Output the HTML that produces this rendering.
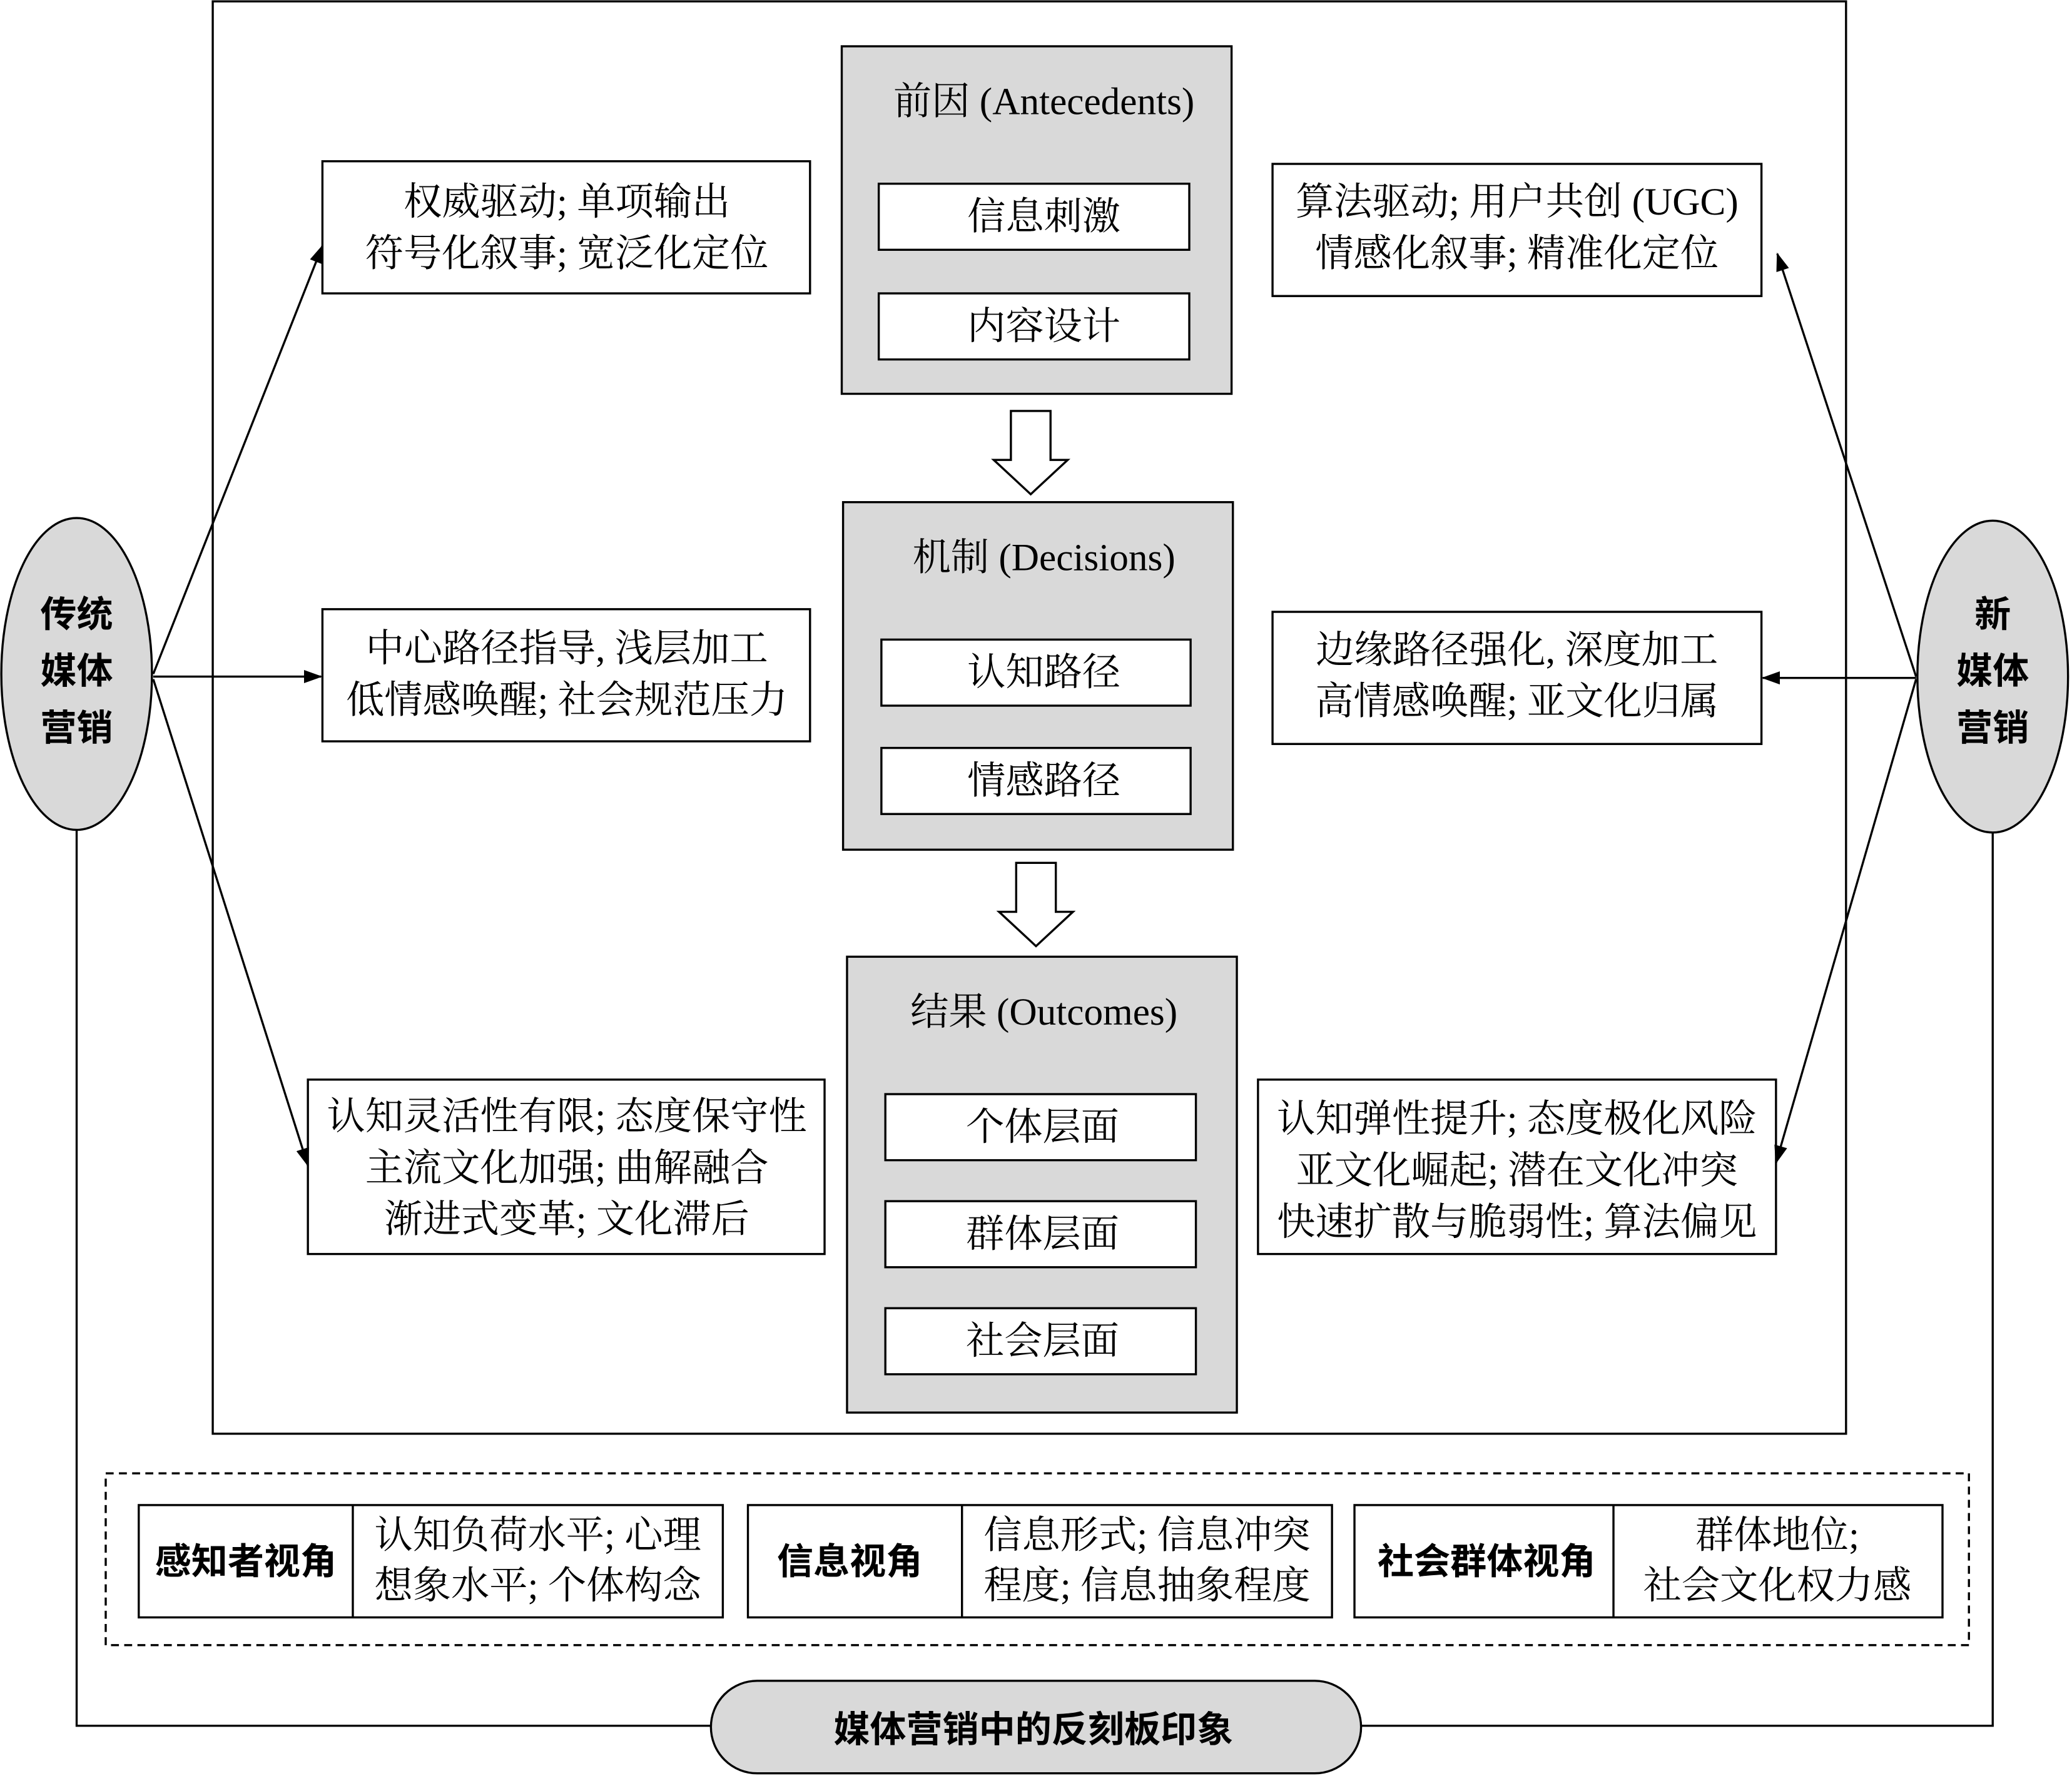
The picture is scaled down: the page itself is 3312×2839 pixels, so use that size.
<!DOCTYPE html>
<html><head><meta charset="utf-8"><style>
html,body{margin:0;padding:0;background:#fff}
svg{display:block}
text{font-family:"Liberation Serif","Noto Serif CJK SC",serif;font-size:29px;fill:#000;text-anchor:middle;dominant-baseline:central}
.b{font-family:"Liberation Sans","Noto Sans CJK SC",sans-serif;font-weight:bold;font-size:27.5px}
</style></head><body>
<svg width="3312" height="2839" viewBox="0 0 1568 1344" xmlns="http://www.w3.org/2000/svg">
<defs><marker id="a" markerWidth="14" markerHeight="10" refX="13" refY="5" orient="auto" markerUnits="userSpaceOnUse"><path d="M0,0 L14,5 L0,10 Z" fill="#000"/></marker></defs>
<g fill="none" stroke="#000" stroke-width="1.6">
<rect x="161" y="1" width="1236" height="1084"/>
<rect x="637" y="35" width="295" height="263" fill="#d9d9d9"/>
<rect x="665" y="139" width="235" height="50" fill="#fff"/>
<rect x="665" y="222" width="235" height="50" fill="#fff"/>
<rect x="638" y="380" width="295" height="263" fill="#d9d9d9"/>
<rect x="667" y="484" width="234" height="50" fill="#fff"/>
<rect x="667" y="566" width="234" height="50" fill="#fff"/>
<rect x="641" y="724" width="295" height="345" fill="#d9d9d9"/>
<rect x="670" y="828" width="235" height="50" fill="#fff"/>
<rect x="670" y="909" width="235" height="50" fill="#fff"/>
<rect x="670" y="990" width="235" height="50" fill="#fff"/>
<path d="M765,311 H795 V348 H808 L780,374 L752,348 H765 Z" fill="#fff"/>
<path d="M769,653 H799 V690 H812 L784,716 L756,690 H769 Z" fill="#fff"/>
<rect x="244" y="122" width="369" height="100" fill="#fff"/>
<rect x="244" y="461" width="369" height="100" fill="#fff"/>
<rect x="233" y="817" width="391" height="132" fill="#fff"/>
<rect x="963" y="124" width="370" height="100" fill="#fff"/>
<rect x="963" y="463" width="370" height="100" fill="#fff"/>
<rect x="952" y="817" width="392" height="132" fill="#fff"/>
<line x1="116" y1="510" x2="244" y2="186" marker-end="url(#a)"/>
<line x1="116" y1="512" x2="243" y2="512" marker-end="url(#a)"/>
<line x1="116" y1="514" x2="233" y2="882" marker-end="url(#a)"/>
<line x1="1450" y1="512" x2="1345" y2="192" marker-end="url(#a)"/>
<line x1="1450" y1="513" x2="1334" y2="513" marker-end="url(#a)"/>
<line x1="1450" y1="514" x2="1344" y2="880" marker-end="url(#a)"/>
<polyline points="58,628 58,1306 538,1306"/>
<polyline points="1508,630 1508,1306 1030,1306"/>
<ellipse cx="58" cy="510" rx="57" ry="118" fill="#d9d9d9"/>
<ellipse cx="1508" cy="512" rx="57" ry="118" fill="#d9d9d9"/>
<rect x="80" y="1115" width="1410" height="130" stroke-dasharray="6,4"/>
<rect x="105" y="1139" width="442" height="85"/><line x1="267" y1="1139" x2="267" y2="1224"/>
<rect x="566" y="1139" width="442" height="85"/><line x1="728" y1="1139" x2="728" y2="1224"/>
<rect x="1025" y="1139" width="445" height="85"/><line x1="1221" y1="1139" x2="1221" y2="1224"/>
<rect x="538" y="1272" width="492" height="70" rx="35" fill="#d9d9d9"/>
</g>
<text x="790" y="77">前因 (Antecedents)</text>
<text x="790" y="164">信息刺激</text><text x="790" y="247">内容设计</text>
<text x="790" y="422">机制 (Decisions)</text>
<text x="790" y="509">认知路径</text><text x="790" y="591">情感路径</text>
<text x="790" y="766">结果 (Outcomes)</text>
<text x="789" y="853">个体层面</text><text x="789" y="934">群体层面</text><text x="789" y="1015">社会层面</text>
<text x="429" y="153">权威驱动; 单项输出</text><text x="429" y="192">符号化叙事; 宽泛化定位</text>
<text x="429" y="491">中心路径指导, 浅层加工</text><text x="429" y="530">低情感唤醒; 社会规范压力</text>
<text x="429" y="845">认知灵活性有限; 态度保守性</text><text x="429" y="884">主流文化加强; 曲解融合</text><text x="429" y="923">渐进式变革; 文化滞后</text>
<text x="1148" y="153">算法驱动; 用户共创 (UGC)</text><text x="1148" y="192">情感化叙事; 精准化定位</text>
<text x="1148" y="492">边缘路径强化, 深度加工</text><text x="1148" y="531">高情感唤醒; 亚文化归属</text>
<text x="1148" y="847">认知弹性提升; 态度极化风险</text><text x="1148" y="886">亚文化崛起; 潜在文化冲突</text><text x="1148" y="925">快速扩散与脆弱性; 算法偏见</text>
<text class="b" x="58" y="465">传统</text><text class="b" x="58" y="508">媒体</text><text class="b" x="58" y="551">营销</text>
<text class="b" x="1508" y="465">新</text><text class="b" x="1508" y="508">媒体</text><text class="b" x="1508" y="551">营销</text>
<text class="b" x="186" y="1182">感知者视角</text>
<text x="407" y="1162">认知负荷水平; 心理</text><text x="407" y="1200">想象水平; 个体构念</text>
<text class="b" x="643" y="1182">信息视角</text>
<text x="868" y="1162">信息形式; 信息冲突</text><text x="868" y="1200">程度; 信息抽象程度</text>
<text class="b" x="1125" y="1182">社会群体视角</text>
<text x="1345" y="1162">群体地位;</text><text x="1345" y="1200">社会文化权力感</text>
<text class="b" x="782" y="1309">媒体营销中的反刻板印象</text>
</svg>
</body></html>
